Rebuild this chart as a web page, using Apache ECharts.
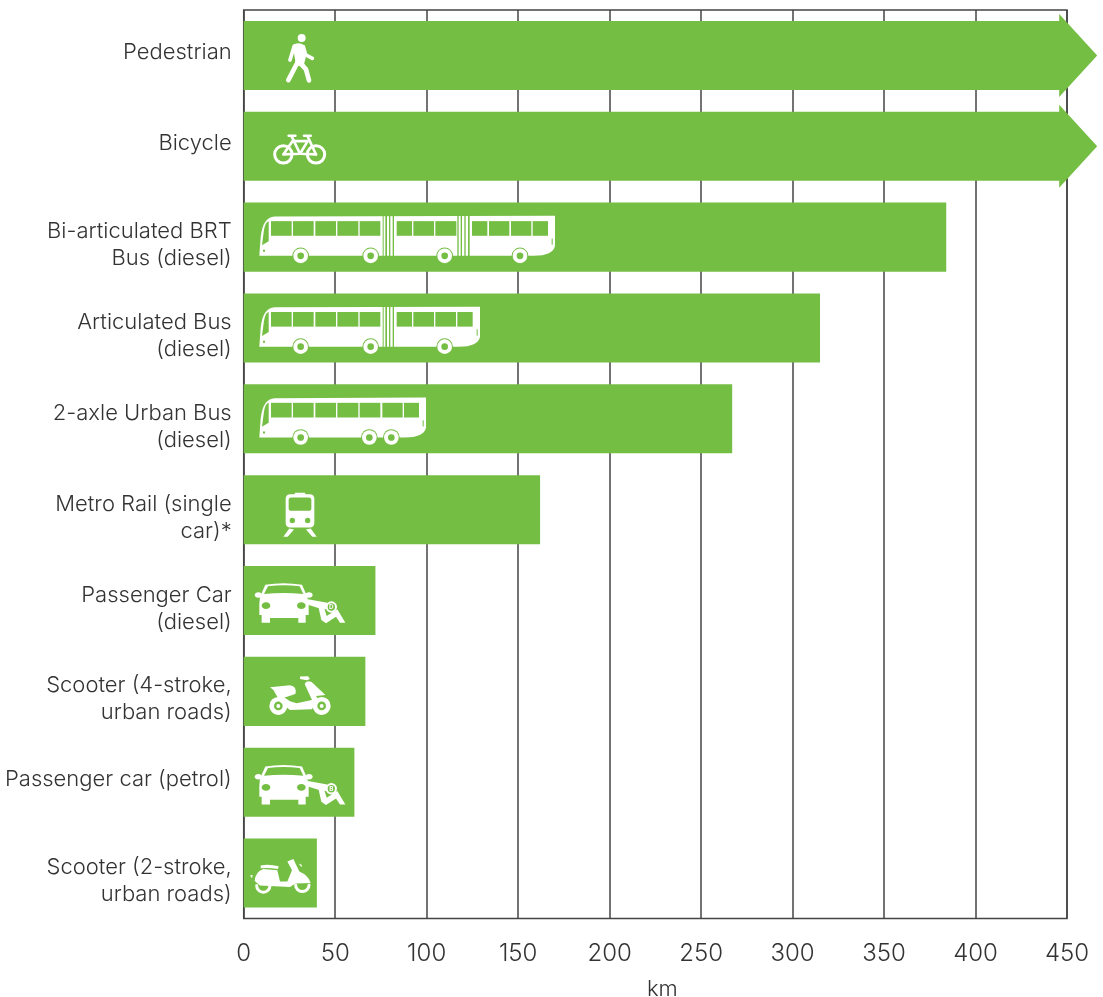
<!DOCTYPE html>
<html>
<head>
<meta charset="utf-8">
<style>html,body{margin:0;padding:0;background:#fff}#c{width:1103px;height:997px}</style>
<script src="https://cdn.jsdelivr.net/npm/echarts@6/dist/echarts.min.js"></script>
</head>
<body>
<div id="c"></div>
<script>
// ---- data ----
const categories = [
  'Pedestrian',
  'Bicycle',
  'Bi-articulated BRT\nBus (diesel)',
  'Articulated Bus\n(diesel)',
  '2-axle Urban Bus\n(diesel)',
  'Metro Rail (single\ncar)*',
  'Passenger Car\n(diesel)',
  'Scooter (4-stroke,\nurban roads)',
  'Passenger car (petrol)',
  'Scooter (2-stroke,\nurban roads)'
];
const kilometres = [466.5, 466.5, 384, 315, 267, 162, 72, 66.5, 60.5, 40];
const tickValues = [0, 50, 100, 150, 200, 250, 300, 350, 400, 450];
const axisName = 'km';
const icons = ['walk', 'bike', 'brt', 'artic', 'urban', 'metro', 'carD', 'scooter4', 'carP', 'scooter2'];

// ---- styling ----
const GREEN = '#75BE44', WHITE = '#fff', TXT = '#333', LINE = '#444';
const FONT = 'Inter, Roboto, "Liberation Sans", Arial, sans-serif';

// ---- icon artwork: 3x local units, x from a point just left of the bar, y as given by oy ----
const P = (d, fill) => ({ k: 'p', d, fill: fill || WHITE });
const S = (d, w, stroke) => ({ k: 's', d, w, stroke: stroke || WHITE });
const C = (x, y, r, fill) => ({ k: 'c', x, y, r, fill: fill || WHITE });
const E = (x, y, rx, ry, fill) => ({ k: 'e', x, y, rx, ry, fill: fill || WHITE });
const R = (x1, x2, y1, y2, fill) => P(`M${x1} ${y1}L${x2} ${y1}L${x2} ${y2}L${x1} ${y2}Z`, fill || GREEN);
const T = (t, x, y, s) => ({ k: 't', t, x, y, s });

function bus(end, windows, stripes, wheels) {
  const out = [
    P(`M58 768L62 712Q68 652 104 650L${end} 648L${end} 738Q${end - 5} 768 ${end - 65} 768Z`),
    P('M66 736L86 724L86 664Q76 666 72 690Z', GREEN),
    R(69, 75, 750, 756),
    R(end - 10, end - 7, 716, 735)
  ];
  windows.forEach(w => out.push(R(w[0], w[1], 664, 708)));
  stripes.forEach(s => out.push(R(s[0], s[1], 646, 771)));
  wheels.forEach(x => out.push(C(x, 768, 25, GREEN), C(x, 768, 22), C(x, 768, 10, GREEN)));
  return out;
}
function car(letter) {
  return [
    E(55, 345, 11, 8), E(207, 345, 11, 8),
    P('M60 350L76 314Q130 305 186 314L202 350L206 372L206 405L197 405L197 428L175 428L175 414L90 414L90 428L65 428L65 405L58 405L58 372Z'),
    P('M72 342L84 319Q130 312 179 319L190 342Q130 336 72 342Z', GREEN),
    E(78, 377, 13, 10, GREEN), E(184, 377, 13, 10, GREEN),
    P('M204 358L262 368L262 388L242 386L204 374Z'),
    P('M236 384L252 382L260 408L292 388L316 428L300 428L288 410L258 430L244 420Z'),
    C(274, 381, 17), C(274, 381, 11, GREEN), T(letter, 274, 382, 19)
  ];
}
const iconArt = {
  walk: { oy: 166, parts: [
    C(185, 114, 12),
    P('M158 134Q176 124 194 136L198 170L190 200L168 196Z'),
    S('M172 188L145 240', 14), S('M182 190L198 208L207 241', 14),
    S('M162 140L150 180', 11), S('M190 140L197 164L217 175', 11)
  ]},
  bike: { oy: 439.5, parts: [
    { k: 'ring', x: 130, y: 464, r: 26, w: 9 }, { k: 'ring', x: 228, y: 464, r: 26, w: 9 },
    S('M130 464L158 424L203 424L180 462Z', 8), S('M155 410L180 462L228 464', 8), S('M203 410L228 464', 8),
    S('M146 408L166 408', 8), S('M192 408L212 408', 8)
  ]},
  brt: { oy: 712, parts: bus(945,
    [[93,155],[159,221],[226,288],[292,355],[359,421],[470,516],[520,582],[586,649],[696,742],[747,808],[813,874],[878,924]],
    [[428,431],[436,441],[447,451],[458,462],[652,656],[662,666],[673,677],[684,689]],
    [182,392,614,840]) },
  artic: { oy: 712, parts: bus(720,
    [[93,155],[159,221],[226,288],[292,355],[359,421],[470,516],[520,582],[586,648],[652,698]],
    [[428,431],[436,441],[447,451],[458,462]],
    [182,392,614]) },
  urban: { oy: 712, parts: bus(558,
    [[93,155],[159,221],[226,288],[292,355],[359,421],[427,488],[492,537]],
    [],
    [182,388,454]) },
  metro: { oy: 88.5, parts: [
    P('M162 44L166 38L194 38L198 44Z'),
    P('M151 42L209 42Q223 42 223 56L223 128Q223 142 209 142L151 142Q137 142 137 128L137 56Q137 42 151 42Z'),
    P('M154 52L206 52Q214 52 214 60L214 84Q214 92 206 92L154 92Q146 92 146 84L146 60Q146 52 154 52Z', GREEN),
    C(157, 121, 8, GREEN), C(203, 121, 8, GREEN),
    P('M148 145L162 148L143 170L130 170Z'), P('M212 145L198 148L217 170L230 170Z')
  ]},
  carD: { oy: 361.5, parts: car('D') },
  carP: { oy: 361.5, parts: car('B') },
  scooter4: { oy: 634.5, parts: [
    { k: 'ring', x: 115, y: 678, r: 20, w: 14 }, C(115, 678, 6),
    { k: 'ring', x: 245, y: 678, r: 20, w: 14 }, C(245, 678, 6),
    P('M90 622L150 616Q172 620 166 642L130 654Z'),
    P('M100 630L150 664L170 670L216 660L194 612Q198 600 215 606L256 645L228 648L238 662L215 688L150 690L122 668Z'),
    P('M180 590L204 589L210 597L200 601L180 597Z')
  ]},
  scooter2: { oy: 400.5, parts: [
    S('M50 438A20 20 0 0 0 90 438', 9), S('M167 436A20 20 0 0 0 207 436', 9),
    P('M44 424Q46 396 70 388L112 392L120 426L142 426L156 392L142 366L160 358L178 396Q206 408 212 430L166 432L150 442L60 438Z'),
    P('M62 378Q85 372 116 380L114 388Q85 384 62 386Z'),
    P('M30 408L38 406L36 416Z'), P('M176 372L186 376L184 382Z')
  ]}
};

function renderIcon(name, x, y) {
  const art = iconArt[name];
  const children = art.parts.map(p => {
    if (p.k === 'p') return { type: 'path', shape: { pathData: p.d }, style: { fill: p.fill } };
    if (p.k === 's') return { type: 'path', shape: { pathData: p.d }, style: { fill: 'none', stroke: p.stroke, lineWidth: p.w, lineCap: 'round', lineJoin: 'round' } };
    if (p.k === 'c') return { type: 'circle', shape: { cx: p.x, cy: p.y, r: p.r }, style: { fill: p.fill } };
    if (p.k === 'e') return { type: 'ellipse', shape: { cx: p.x, cy: p.y, rx: p.rx, ry: p.ry }, style: { fill: p.fill } };
    if (p.k === 'ring') return { type: 'circle', shape: { cx: p.x, cy: p.y, r: p.r }, style: { fill: 'none', stroke: WHITE, lineWidth: p.w } };
    if (p.k === 't') return { type: 'text', style: { text: p.t, x: p.x, y: p.y, fill: WHITE, font: `bold ${p.s}px ${FONT}`, textAlign: 'center', textVerticalAlign: 'middle' } };
  });
  return { type: 'group', x, y, scaleX: 1 / 3, scaleY: 1 / 3,
    children: [{ type: 'group', y: -art.oy, children }] };
}

function renderBar(params, api) {
  const value = api.value(0);
  const idx = api.value(1);
  const base = api.coord([0, idx]);
  const end = api.coord([value, idx]);
  const band = api.size([0, 1])[1];
  const h = band * 0.76;
  const top = base[1] - h / 2, bot = base[1] + h / 2;
  let mark;
  if (value > 450) {
    const sx = end[0] - 38, wing = h / 2 + 7;
    mark = { type: 'polygon', shape: { points: [
      [base[0], top], [sx, top], [sx, base[1] - wing], [end[0], base[1]],
      [sx, base[1] + wing], [sx, bot], [base[0], bot]
    ] }, style: { fill: GREEN } };
  } else {
    mark = { type: 'rect', shape: { x: base[0], y: top, width: end[0] - base[0], height: h }, style: { fill: GREEN } };
  }
  return { type: 'group', children: [mark, renderIcon(icons[idx], base[0] - 3.7, base[1])] };
}

// two-line labels sit lower than the bar centre, one-line labels slightly higher
function categoryLabel(text) {
  const lines = text.split('\n').map(l => `{t|${l}}`);
  return lines.length > 1
    ? ['{down| }'].concat(lines).join('\n')
    : lines.concat(['{up| }']).join('\n');
}

const chart = echarts.init(document.getElementById('c'), null, { renderer: 'canvas' });
chart.setOption({
  animation: false,
  backgroundColor: '#fff',
  grid: { show: true, left: 243.7, top: 10, width: 823.3, height: 908.5, outerBoundsMode: 'none',
    borderColor: LINE, borderWidth: 1.5, backgroundColor: 'transparent', containLabel: false },
  xAxis: {
    type: 'value', min: tickValues[0], max: tickValues[tickValues.length - 1], interval: tickValues[1] - tickValues[0],
    name: axisName, nameLocation: 'middle', nameGap: 60,
    nameTextStyle: { color: TXT, fontFamily: FONT, fontWeight: 300, fontSize: 22, padding: [0, 0, 0, 14] },
    axisLine: { show: false }, axisTick: { show: false },
    axisLabel: { color: TXT, fontFamily: FONT, fontWeight: 300, fontSize: 24, margin: 23 },
    splitLine: { show: true, lineStyle: { color: LINE, width: 1.5 } }
  },
  yAxis: {
    type: 'category', inverse: true, data: categories,
    axisLine: { show: false }, axisTick: { show: false },
    axisLabel: { margin: 12, align: 'right', interval: 0,
      formatter: categoryLabel,
      rich: {
        t: { color: TXT, fontFamily: FONT, fontWeight: 300, fontSize: 22, lineHeight: 27, align: 'right' },
        down: { fontSize: 1, lineHeight: 16 },
        up: { fontSize: 1, lineHeight: 6 }
      }
    },
    splitLine: { show: false }
  },
  series: [{
    type: 'custom', renderItem: renderBar, clip: false,
    encode: { x: 0, y: 1 },
    data: kilometres.map((v, i) => [v, i]),
    silent: true
  }]
});
</script>
</body>
</html>
